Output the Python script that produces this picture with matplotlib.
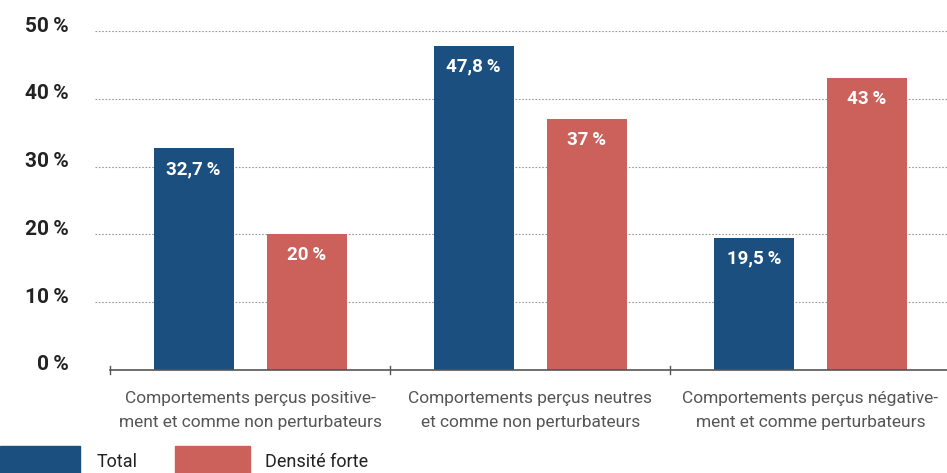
import matplotlib
matplotlib.use("Agg")
import matplotlib.pyplot as plt
from matplotlib.patches import Rectangle
from matplotlib.transforms import ScaledTranslation
from matplotlib import font_manager as fm

categories = ["Comportements perçus positive-\nment et comme non perturbateurs",
              "Comportements perçus neutres\net comme non perturbateurs",
              "Comportements perçus négative-\nment et comme perturbateurs"]
series_names = ["Total", "Densité forte"]
total = [32.7, 47.8, 19.5]
densite = [20, 37, 43]
yticks = [0, 10, 20, 30, 40, 50]
ytick_labels = ["0\u2009%", "10\u2009%", "20\u2009%", "30\u2009%", "40\u2009%", "50\u2009%"]

names = {f.name for f in fm.fontManager.ttflist}
fam = ["Liberation Sans Narrow"] if "Liberation Sans Narrow" in names else ["Roboto"]
fam = fam + ["DejaVu Sans"]
plt.rcParams['font.family'] = fam

BLUE = "#1b4f80"
RED = "#cc605a"

fig = plt.figure(figsize=(9.47, 4.73), dpi=100)
ax = fig.add_axes([95/947, 1-370/473, 852/947, (370-31)/473])

x = list(range(len(categories)))
off = 56.5/280
w = 80/280
b1 = ax.bar([i - off for i in x], total, width=w, color=BLUE, zorder=3)
b2 = ax.bar([i + off for i in x], densite, width=w, color=RED, zorder=3)

def fmt(v):
    s = ("%g" % v).replace(".", ",")
    return s + "\u2009%"

for bars, vals in ((b1, total), (b2, densite)):
    for r, v in zip(bars, vals):
        ax.annotate(fmt(v), (r.get_x() + r.get_width()/2, v), xytext=(0, -15),
                    textcoords="offset points", ha="center", va="center",
                    color="white", fontsize=13.5, fontweight="bold", zorder=4)

ax.set_xlim(-0.5 - 15/280, 2.5 - 3.5/280)
ax.set_ylim(0, 50)
for s in ax.spines.values():
    s.set_visible(False)
for t in yticks[1:]:
    ax.axhline(t, color="#999999", lw=0.8, ls=(0, (1.5, 1.5)), zorder=1)
ax.plot([-0.5, 2.5], [0, 0], color="#555555", lw=1.2, zorder=5, clip_on=False)
for b in [-0.5, 0.5, 1.5, 2.5]:
    ax.plot([b, b], [-0.6, 0.6], color="#555555", lw=1.0, zorder=5, clip_on=False)

ax.set_yticks(yticks)
ax.set_yticklabels(ytick_labels, fontsize=15, fontweight="bold", color="#222222")
ax.tick_params(axis="y", length=0, pad=19)
shift = ScaledTranslation(0, 7/100, fig.dpi_scale_trans)
for lab in ax.get_yticklabels():
    lab.set_transform(lab.get_transform() + shift)
ax.set_xticks(x)
ax.set_xticklabels(categories, fontsize=12.5, color="#555555", linespacing=1.75)
ax.tick_params(axis="x", length=0, pad=15)

# legend
fig.patches.append(Rectangle((0/947, 0), 80/947, 27/473, transform=fig.transFigure,
                             color=BLUE, zorder=3))
fig.patches.append(Rectangle((175/947, 0), 75/947, 27/473, transform=fig.transFigure,
                             color=RED, zorder=3))
fig.text(97/947, 1-462/473, series_names[0], fontsize=13, color="#222222", va="center")
fig.text(265/947, 1-462/473, series_names[1], fontsize=13, color="#222222", va="center")

fig.savefig("out.png", dpi=100)
